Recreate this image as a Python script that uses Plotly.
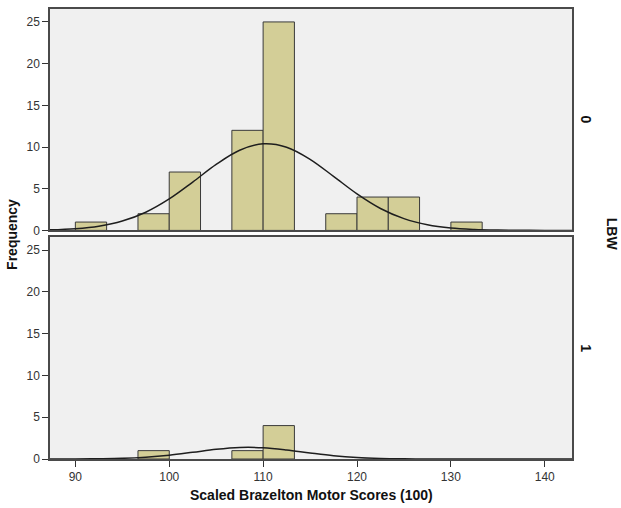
import plotly.graph_objects as go

# ---- data ----
bin_width = 10 / 3
top_bin_start = [90.0, 96.67, 100.0, 106.67, 110.0, 116.67, 120.0, 123.33, 130.0]
top_counts = [1, 2, 7, 12, 25, 2, 4, 4, 1]
bottom_bin_start = [96.67, 106.67, 110.0]
bottom_counts = [1, 1, 4]

curve_x = [87.3, 90, 92.5, 95, 97.5, 100, 102.5, 105, 107.5, 110, 112.5, 115,
           117.5, 120, 122.5, 125, 127.5, 130, 132.5, 135, 137.5, 140, 142.9]
top_curve = [0.07, 0.21, 0.51, 1.12, 2.18, 3.77, 5.79, 7.91, 9.61, 10.38, 9.98, 8.53,
             6.48, 4.38, 2.63, 1.41, 0.67, 0.28, 0.11, 0.04, 0.01, 0.0, 0.0]
bottom_curve = [0.0, 0.01, 0.03, 0.08, 0.22, 0.46, 0.80, 1.16, 1.38, 1.35, 1.09, 0.73,
                0.40, 0.18, 0.07, 0.02, 0.0, 0.0, 0.0, 0.0, 0.0, 0.0, 0.0]

x_ticks = [90, 100, 110, 120, 130, 140]
y_ticks = [0, 5, 10, 15, 20, 25]
panel_labels = ["0", "1"]

BAR_FILL = "#d3ce97"
BAR_LINE = "#3a3a3a"
FRAME = "#4a4a4a"
FONT = "Liberation Sans, Arial, sans-serif"

fig = go.Figure()

fig.add_trace(go.Bar(x=top_bin_start, y=top_counts, width=bin_width, offset=0,
                     marker=dict(color=BAR_FILL, line=dict(color=BAR_LINE, width=1)),
                     xaxis="x", yaxis="y", showlegend=False))
fig.add_trace(go.Scatter(x=curve_x, y=top_curve, mode="lines",
                         line=dict(color="#1e1e1e", width=1.5, shape="spline"),
                         xaxis="x", yaxis="y", showlegend=False))
fig.add_trace(go.Bar(x=bottom_bin_start, y=bottom_counts, width=bin_width, offset=0,
                     marker=dict(color=BAR_FILL, line=dict(color=BAR_LINE, width=1)),
                     xaxis="x2", yaxis="y2", showlegend=False))
fig.add_trace(go.Scatter(x=curve_x, y=bottom_curve, mode="lines",
                         line=dict(color="#1e1e1e", width=1.5, shape="spline"),
                         xaxis="x2", yaxis="y2", showlegend=False))

xrange = [87.3, 142.9]
yrange = [0, 26.55]

common_x = dict(range=xrange, showgrid=False, zeroline=False, showline=True, mirror=True,
                linecolor=FRAME, linewidth=1.5)
common_y = dict(range=yrange, showgrid=False, zeroline=False, showline=True, mirror=True,
                linecolor=FRAME, linewidth=1.5, tickvals=y_ticks, ticks="outside",
                ticklen=6, tickcolor="#333", tickfont=dict(size=12, color="#333", family=FONT))

fig.update_layout(
    width=621, height=508,
    margin=dict(l=50, r=49, t=7, b=49),
    paper_bgcolor="white",
    plot_bgcolor="#f0f0f0",
    barmode="overlay",
    font=dict(family=FONT),
    xaxis=dict(**common_x, anchor="y", domain=[0, 1], showticklabels=False, ticks=""),
    yaxis=dict(**common_y, domain=[0.508, 1], anchor="x"),
    xaxis2=dict(**common_x, anchor="y2", domain=[0, 1], tickvals=x_ticks, ticks="outside",
                ticklen=6, tickcolor="#333", tickfont=dict(size=12, color="#333", family=FONT)),
    yaxis2=dict(**common_y, domain=[0, 0.493], anchor="x2"),
)

annos = [
    dict(text="<b>Frequency</b>", x=-0.073, y=0.5, textangle=-90, size=14),
    dict(text="<b>Scaled Brazelton Motor Scores (100)</b>", x=0.5, y=-0.08, size=14),
    dict(text="<b>LBW</b>", x=1.077, y=0.5, textangle=90, size=14),
    dict(text="<b>" + panel_labels[0] + "</b>", x=1.027, y=0.754, textangle=90, size=14),
    dict(text="<b>" + panel_labels[1] + "</b>", x=1.027, y=0.246, textangle=90, size=14),
]
for a in annos:
    size = a.pop("size")
    fig.add_annotation(xref="paper", yref="paper", showarrow=False,
                       xanchor="center", yanchor="middle",
                       font=dict(size=size, color="#111", family=FONT), **a)

fig.write_html("out.html", config={"displayModeBar": False},
               post_script="document.body.style.margin='0px';")
